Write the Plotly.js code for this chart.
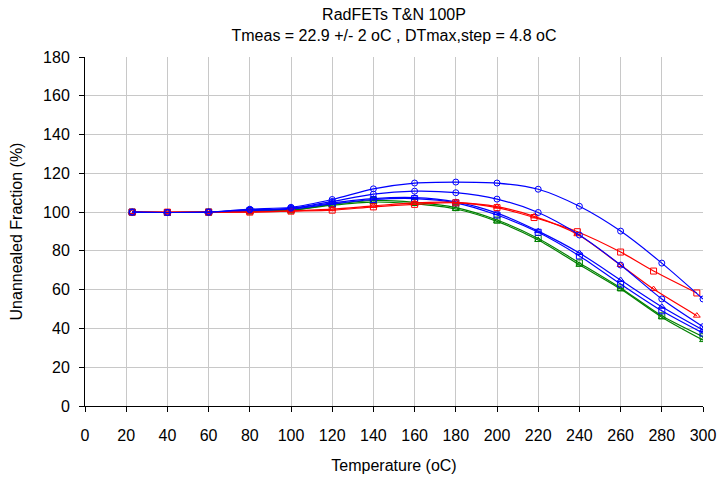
<!DOCTYPE html>
<html>
<head>
<meta charset="utf-8">
<script src="https://cdn.plot.ly/plotly-3.0.1.min.js"></script>
<style>html,body{margin:0;padding:0;background:#fff;}#chart{width:719px;height:479px;}</style>
</head>
<body>
<div id="chart"></div>
<script>
var tempsBlue = [22.9, 40, 60, 80, 100, 120, 140, 160, 180, 200, 220, 240, 260, 280, 300];
var tempsRed  = [22.9, 40, 60, 80, 100, 120, 140, 160, 180, 200, 218, 239, 260, 276, 297];

var blueCircleTop = [100, 99.8, 100, 101.5, 102.5, 106.5, 112, 115, 115.5, 115, 111.8, 103, 90.2, 73.7, 55.2];
var blueDiamond   = [100, 99.8, 100, 101.2, 102, 105.5, 109.3, 110.8, 110, 106.7, 99.8, 88.2, 72.7, 55.2, 40.9];
var blueTriangle  = [100, 99.8, 100, 101, 101.8, 104.8, 107, 107.5, 105.3, 99.5, 90.2, 78.9, 65, 51.2, 39.2];
var blueSquare    = [100, 99.8, 100, 100.8, 101.5, 104.2, 106.5, 107, 104.8, 98.5, 89.6, 77.4, 62.9, 49.1, 37.6];
var greenSquare   = [100, 99.8, 100, 100.5, 101, 104, 106, 105, 102.3, 95.9, 86.4, 73.8, 60.9, 46.5, 35.7];
var greenTriangle = [100, 99.8, 100, 100.5, 101, 103.6, 105.2, 104.2, 101.6, 95.2, 85.6, 72.8, 60.3, 45.8, 34];
var redSquare     = [100, 100, 100, 100, 100.5, 101, 102.7, 104, 104.8, 102.3, 97.2, 89.9, 79.4, 69.6, 58.3];
var redTriangle   = [100, 100, 100, 100, 100.6, 101.5, 103.2, 104.8, 105, 102.8, 97.8, 88.6, 72.7, 60.3, 46.6];

var xTicks = [0, 20, 40, 60, 80, 100, 120, 140, 160, 180, 200, 220, 240, 260, 280, 300];
var yTicks = [0, 20, 40, 60, 80, 100, 120, 140, 160, 180];

function tr(x, y, color, symbol, name) {
  return {
    x: x, y: y, name: name, type: 'scatter', mode: 'lines+markers',
    line: {color: color, width: 1.2, shape: 'spline', smoothing: 0.8},
    marker: {symbol: symbol, size: 6, color: color, line: {color: color, width: 1}}
  };
}

var data = [
  tr(tempsBlue, greenTriangle, '#008000', 'triangle-up-open', 'G2'),
  tr(tempsBlue, greenSquare, '#008000', 'square-open', 'G1'),
  tr(tempsBlue, blueSquare, '#0000ff', 'square-open', 'B4'),
  tr(tempsBlue, blueTriangle, '#0000ff', 'triangle-up-open', 'B3'),
  tr(tempsRed, redTriangle, '#ff0000', 'triangle-up-open', 'R2'),
  tr(tempsRed, redSquare, '#ff0000', 'square-open', 'R1'),
  tr(tempsBlue, blueDiamond, '#0000ff', 'circle-open', 'B2'),
  tr(tempsBlue, blueCircleTop, '#0000ff', 'circle-open', 'B1')
];

var layout = {
  width: 719, height: 479,
  margin: {l: 85, r: 16, t: 57, b: 73},
  paper_bgcolor: '#ffffff', plot_bgcolor: '#ffffff',
  showlegend: false,
  font: {family: 'Liberation Sans, Arial, sans-serif', color: '#000', size: 16},
  title: {
    text: 'RadFETs T&amp;N 100P<br>Tmeas = 22.9 +/- 2 oC , DTmax,step = 4.8 oC',
    font: {size: 16, family: 'Liberation Sans, Arial, sans-serif', color: '#000'},
    x: 0.5, xanchor: 'center', xref: 'paper', yref: 'container', y: 1 - 20 / 479, yanchor: 'middle'
  },
  xaxis: {
    range: [0, 300], tickvals: xTicks, ticktext: xTicks.map(String),
    showgrid: true, gridcolor: '#c8c8c8', gridwidth: 1,
    showline: true, linecolor: '#000', linewidth: 1,
    ticks: 'outside', ticklen: 5, tickcolor: '#000',
    zeroline: false, tickfont: {size: 16}, ticklabelstandoff: 10,
    title: {text: 'Temperature (oC)', font: {size: 16}, standoff: 16}
  },
  yaxis: {
    range: [0, 180], tickvals: yTicks, ticktext: yTicks.map(String),
    showgrid: true, gridcolor: '#c8c8c8', gridwidth: 1,
    showline: true, linecolor: '#000', linewidth: 1,
    ticks: 'outside', ticklen: 5, tickcolor: '#000',
    zeroline: false, tickfont: {size: 16}, ticklabelstandoff: 6,
    title: {text: 'Unannealed Fraction (%)', font: {size: 16}, standoff: 16}
  }
};

Plotly.newPlot('chart', data, layout, {displayModeBar: false, staticPlot: true});
</script>
</body>
</html>
